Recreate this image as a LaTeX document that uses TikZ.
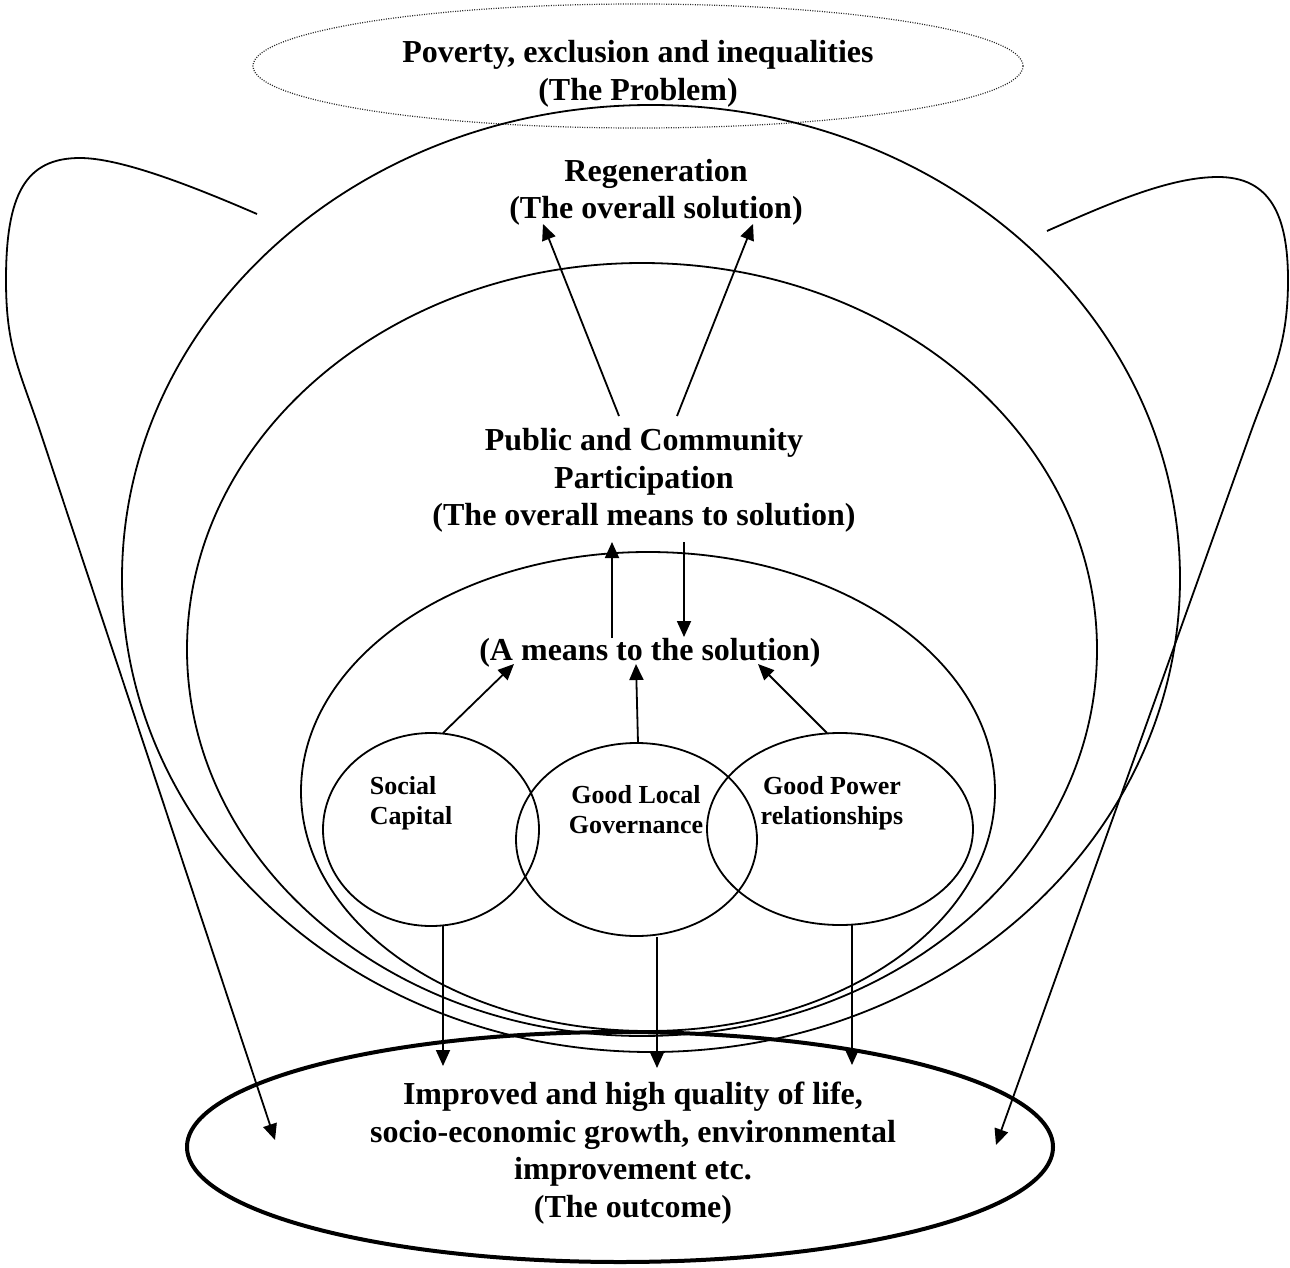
\documentclass[tikz,border=0pt]{standalone}
\usepackage{fontspec}
\setmainfont{Liberation Serif}
\usetikzlibrary{arrows.meta,shapes.geometric}
\begin{document}
\begin{tikzpicture}[x=1pt,y=-1pt,line width=1.8pt,
  arr/.style={-{Triangle[length=16pt,width=14pt]}},
  ell/.style={draw,ellipse,inner sep=0pt,outer sep=0pt},
  dotell/.style={ell,line width=1.2pt,draw=black!85,dash pattern=on 1pt off 1.4pt},
  big/.style={font=\bfseries\fontsize{32}{37.5}\selectfont,align=center,inner sep=0pt},
  small/.style={font=\bfseries\fontsize{26}{30}\selectfont,inner sep=0pt}]
\useasboundingbox (0,0) rectangle (1290,1268);

% ellipses
\node[dotell,minimum width=770pt,minimum height=124pt] (prob) at (638,66) {};
\node[ell,minimum width=1058pt,minimum height=947pt] (regen) at (651,578.5) {};
\node[ell,minimum width=910pt,minimum height=773pt] (pcp) at (642,649.5) {};
\node[ell,minimum width=694pt,minimum height=479pt] (means) at (648,791.5) {};
\node[ell,minimum width=216pt,minimum height=193pt] (sc) at (431,829.5) {};
\node[ell,minimum width=241pt,minimum height=193pt] (glg) at (636.5,839.5) {};
\node[ell,minimum width=266pt,minimum height=192pt] (gpr) at (840,829) {};
\node[ell,line width=4pt,minimum width=866pt,minimum height=230pt] (out) at (620,1147) {};

% texts
\node[big] (tprob) at (638,74) {Poverty, exclusion and inequalities\\(The Problem)};
\node[big] (tregen) at (656,192.5) {Regeneration\\(The overall solution)};
\node[big] (tpcp) at (644,480.5) {Public and Community\\Participation\\(The overall means to solution)};
\node[big] (tmeans) at (650,652.5) {(A means to the solution)};
\node[big] (tout) at (633,1153) {Improved and high quality of life,\\socio-economic growth, environmental\\improvement etc.\\(The outcome)};
\node[small,align=left,anchor=west] (tsc) at (369,803) {Social\\Capital};
\node[small,align=center] (tglg) at (636,810) {Good Local\\Governance};
\node[small,align=center] (tgpr) at (832,803) {Good Power\\relationships};

% connector end points
\coordinate (pcpL) at (619,416);
\coordinate (pcpR) at (677,416);
\coordinate (regL) at (543,224);
\coordinate (regR) at (753,224);
\coordinate (upS) at (612,638);
\coordinate (upE) at (612,542);
\coordinate (dnS) at (684,542);
\coordinate (dnE) at (684,637);
\coordinate (scT) at (443,733);
\coordinate (glgT) at (638,743);
\coordinate (gprT) at (827,733);
\coordinate (mL) at (514,664);
\coordinate (mM) at (636,664);
\coordinate (mR) at (758,664);
\coordinate (scB) at (443,926);
\coordinate (glgB) at (657,937);
\coordinate (gprB) at (852,925);
\coordinate (oL) at (443,1066);
\coordinate (oM) at (657,1068);
\coordinate (oR) at (852,1065);
\coordinate (lS) at (257,214);
\coordinate (lE) at (275,1140);
\coordinate (rS) at (1047,231);
\coordinate (rE) at (996,1145);

% arrows
\draw[arr] (pcpL) -- (regL);
\draw[arr] (pcpR) -- (regR);
\draw[arr] (upS) -- (upE);
\draw[arr] (dnS) -- (dnE);
\draw[arr] (scT) -- (mL);
\draw[arr] (glgT) -- (mM);
\draw[arr] (gprT) -- (mR);
\draw[arr] (scB) -- (oL);
\draw[arr] (glgB) -- (oM);
\draw[arr] (gprB) -- (oR);

% side loops
\draw[arr] (lS) .. controls (190,185) and (120,158) .. (80,158)
  .. controls (25,158) and (6,195) .. (6,280)
  .. controls (6,350) and (20,370) .. (43,440) -- (lE);
\draw[arr] (rS) .. controls (1110,203) and (1170,177) .. (1218,177)
  .. controls (1270,177) and (1288,215) .. (1288,280)
  .. controls (1288,350) and (1270,377) .. (1248,440) -- (rE);
\end{tikzpicture}
\end{document}
